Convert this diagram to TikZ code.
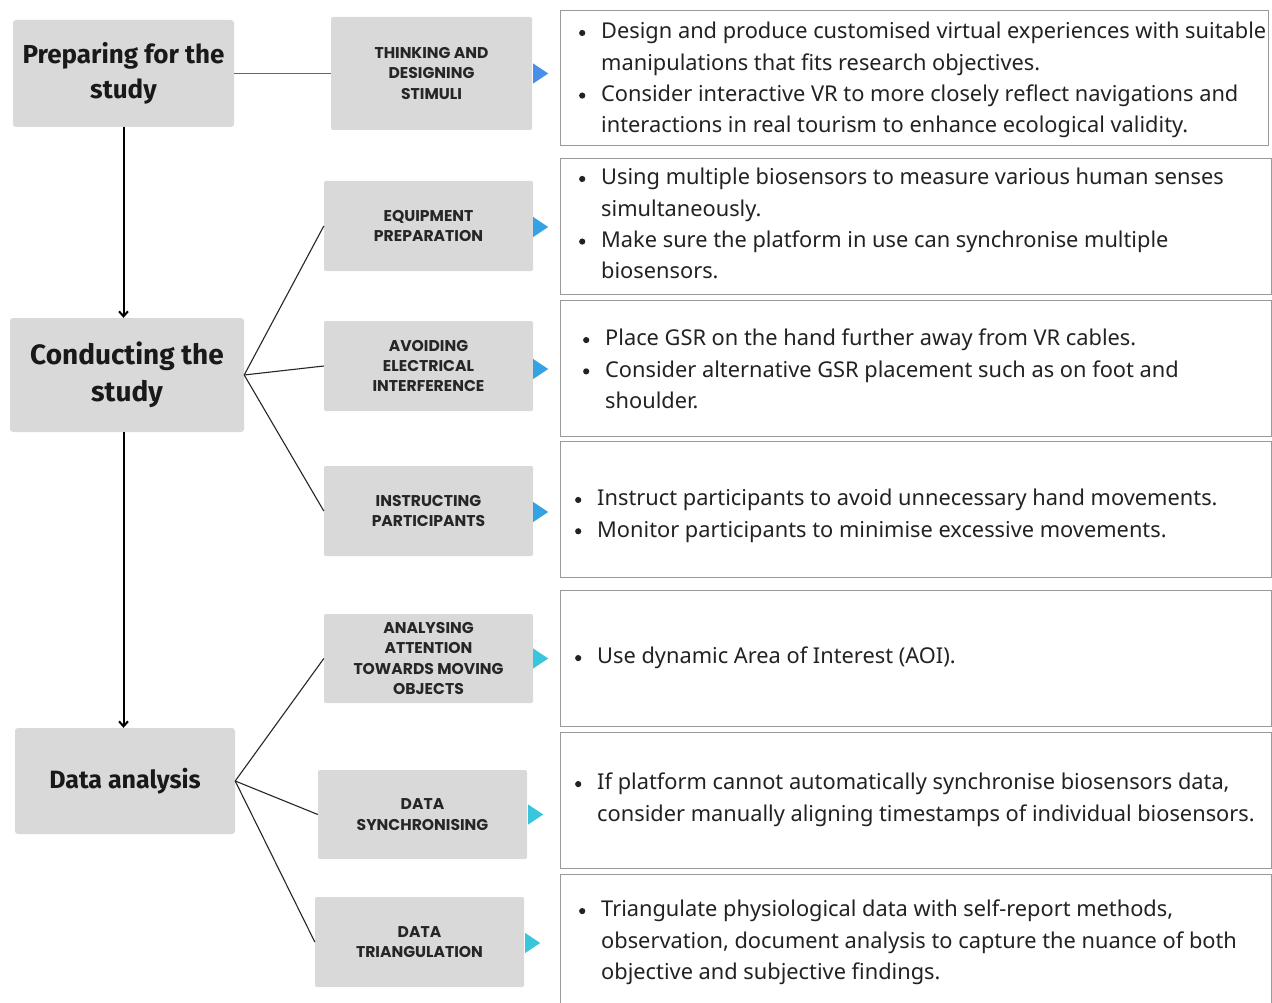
\documentclass[tikz,border=0pt]{standalone}
\usepackage{fontspec}
\setmainfont{Noto Sans}
\newfontfamily\headfont{Fira Sans}
\newfontfamily\capfont{Poppins}
\usetikzlibrary{arrows.meta,calc}
\definecolor{boxgray}{HTML}{D9D9D9}
\definecolor{bordergray}{HTML}{9A9A9A}
\definecolor{triA}{HTML}{4A8FE7}
\definecolor{triB}{HTML}{35A2E4}
\definecolor{triC}{HTML}{38C6DD}
\definecolor{txtc}{HTML}{222222}
\newcommand\bul{\llap{\raisebox{2.7pt}{\tikz\fill[txtc] (0pt,0pt) circle[radius=3.1pt];}\hspace{15.9pt}}}
\begin{document}
\begin{tikzpicture}[x=1pt,y=-1pt,
  mainbox/.style={fill=boxgray, rounded corners=3pt, align=center, inner sep=0pt, text=black!90},
  subbox/.style={fill=boxgray, rounded corners=2pt, align=center, inner sep=0pt,
    minimum width=209pt, minimum height=90pt, text=black!85,
    font=\capfont\bfseries\fontsize{15.6}{20.3}\selectfont},
  infobox/.style={draw=bordergray, line width=1pt, inner sep=0pt, anchor=north west},
  body/.style={anchor=north west, align=left, inner sep=0pt, text=txtc,
    font=\fontsize{21.8}{31.3}\selectfont},
  link/.style={draw=black!85, line width=1.1pt},
  hlink/.style={draw=black!60, line width=1.8pt},
  flow/.style={draw=black, line width=2pt, -{Straight Barb[length=5pt,width=9pt,line width=2pt]}}
]
\useasboundingbox (0,0) rectangle (1272,1003);
\clip (0,0) rectangle (1272,1003);
\fill[white] (0,0) rectangle (1272,1003);

% main stage boxes
\node[mainbox, minimum width=221pt, minimum height=107pt, font=\headfont\bfseries\fontsize{26}{35}\selectfont]
  (prep) at (123.5,73.5) {Preparing for the\\study};
\node[mainbox, minimum width=234pt, minimum height=114pt, font=\headfont\bfseries\fontsize{28}{37}\selectfont]
  (cond) at (127,375) {Conducting the\\study};
\node[mainbox, minimum width=220pt, minimum height=106pt, font=\headfont\bfseries\fontsize{25}{35}\selectfont]
  (data) at (125,781) {Data analysis};

% sub boxes
\node[subbox, minimum width=201pt, minimum height=113pt] (think) at (431.5,73.5) {THINKING AND\\DESIGNING\\STIMULI};
\node[subbox] (equip) at (428.5,226) {EQUIPMENT\\PREPARATION};
\node[subbox] (avoid) at (428.5,366) {AVOIDING\\ELECTRICAL\\INTERFERENCE};
\node[subbox] (instr) at (428.5,511) {INSTRUCTING\\PARTICIPANTS};
\node[subbox, minimum height=89pt] (anal) at (428.5,658.5) {ANALYSING\\ATTENTION\\TOWARDS MOVING\\OBJECTS};
\node[subbox, minimum height=89pt] (sync) at (422.5,814.5) {DATA\\SYNCHRONISING};
\node[subbox] (tri) at (419.5,942) {DATA\\TRIANGULATION};

% connectors
\draw[flow] (prep.south) -- (prep.south |- cond.north);
\draw[flow] (prep.south |- cond.south) -- (prep.south |- data.north);
\draw[hlink] (prep.east) -- (think.west);
\draw[link] (cond.east) -- (equip.west);
\draw[link] (cond.east) -- (avoid.west);
\draw[link] (cond.east) -- (instr.west);
\draw[link] (data.east) -- (anal.west);
\draw[link] (data.east) -- (sync.west);
\draw[link] (data.east) -- (tri.west);

% pointer triangles
\fill[triA] ($(think.east)+(1,-10)$) -- ++(15,10) -- ++(-15,10) -- cycle;
\fill[triB] ($(equip.east)+(0,-9)$) -- ++(15,10) -- ++(-15,10) -- cycle;
\fill[triB] ($(avoid.east)+(0,-7)$) -- ++(15,10) -- ++(-15,10) -- cycle;
\fill[triB] ($(instr.east)+(0,-9)$) -- ++(15,10) -- ++(-15,10) -- cycle;
\fill[triC] ($(anal.east)+(0,-10)$) -- ++(15,10) -- ++(-15,10) -- cycle;
\fill[triC] ($(sync.east)+(1,-10)$) -- ++(15,10) -- ++(-15,10) -- cycle;
\fill[triC] ($(tri.east)+(1,-9)$) -- ++(15,10) -- ++(-15,10) -- cycle;

% info boxes
\node[infobox, minimum width=708pt, minimum height=135pt] (r1) at (560,10) {};
\node[infobox, minimum width=711pt, minimum height=136pt] (r2) at (560,158) {};
\node[infobox, minimum width=711pt, minimum height=136pt] (r3) at (560,300) {};
\node[infobox, minimum width=711pt, minimum height=136pt] (r4) at (560,441) {};
\node[infobox, minimum width=711pt, minimum height=136pt] (r5) at (560,590) {};
\node[infobox, minimum width=711pt, minimum height=136pt] (r6) at (560,732) {};
\node[infobox, minimum width=711pt, minimum height=140pt] (r7) at (560,874) {};

% info texts
\node[body] (t1) at (601,22) {\bul Design and produce customised virtual experiences with suitable\\
manipulations that fits research objectives.\\
\bul Consider interactive VR to more closely reflect navigations and\\
interactions in real tourism to enhance ecological validity.};
\node[body] (t2) at (601,168) {\bul Using multiple biosensors to measure various human senses\\
simultaneously.\\
\bul Make sure the platform in use can synchronise multiple\\
biosensors.};
\node[body] (t3) at (605,329) {\bul Place GSR on the hand further away from VR cables.\\
\bul Consider alternative GSR placement such as on foot and\\
shoulder.};
\node[body] (t4) at (597,489) {\bul Instruct participants to avoid unnecessary hand movements.\\
\bul Monitor participants to minimise excessive movements.};
\node[body] (t5) at (597,647) {\bul Use dynamic Area of Interest (AOI).};
\node[body] (t6) at (597,773) {\bul If platform cannot automatically synchronise biosensors data,\\
consider manually aligning timestamps of individual biosensors.};
\node[body] (t7) at (601,900) {\bul Triangulate physiological data with self-report methods,\\
observation, document analysis to capture the nuance of both\\
objective and subjective findings.};
\end{tikzpicture}
\end{document}
